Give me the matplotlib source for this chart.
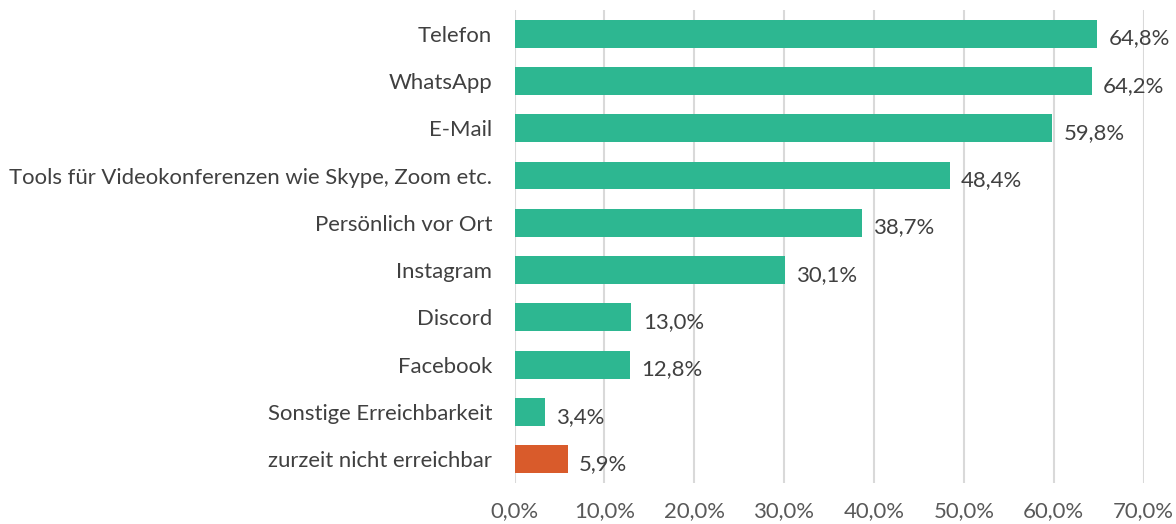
import matplotlib.pyplot as plt

plt.rcParams['font.family'] = ['Lato', 'DejaVu Sans']

# data (top to bottom as in the chart)
categories = ['Telefon', 'WhatsApp', 'E-Mail',
              'Tools für Videokonferenzen wie Skype, Zoom etc.',
              'Persönlich vor Ort', 'Instagram', 'Discord', 'Facebook',
              'Sonstige Erreichbarkeit', 'zurzeit nicht erreichbar']
values = [64.8, 64.2, 59.8, 48.4, 38.7, 30.1, 13.0, 12.8, 3.4, 5.9]
colors = ['#2DB791'] * 9 + ['#D95B2B']
xticks = [0, 10, 20, 30, 40, 50, 60, 70]


def fmt(v):
    return '{:.1f}%'.format(v).replace('.', ',')


fs = 15.9
fig = plt.figure(figsize=(11.76, 5.24), dpi=100)
ax = fig.add_axes([0.4375, 0.0782, 0.9725 - 0.4375, 0.981 - 0.0782])

pos = list(range(len(categories)))[::-1]
ax.barh(pos, values, height=0.59, color=colors, zorder=3)

for p, v in zip(pos, values):
    ax.text(v + 1.3, p - 0.1, fmt(v), va='center', ha='left',
            fontsize=fs, color='#404040')

ax.set_xlim(0, 70)
ax.set_ylim(-0.5, len(categories) - 0.5)
ax.set_yticks(pos)
ax.set_yticklabels(categories, fontsize=fs, color='#404040')
ax.set_xticks(xticks)
ax.set_xticklabels([fmt(t) for t in xticks], fontsize=fs, color='#595959')
ax.tick_params(axis='both', length=0)
ax.tick_params(axis='y', pad=16)
ax.tick_params(axis='x', pad=13)

ax.grid(axis='x', color='#D9D9D9', linewidth=1.5, zorder=0)
for s in ax.spines.values():
    s.set_visible(False)

fig.savefig('out.png', dpi=100)
